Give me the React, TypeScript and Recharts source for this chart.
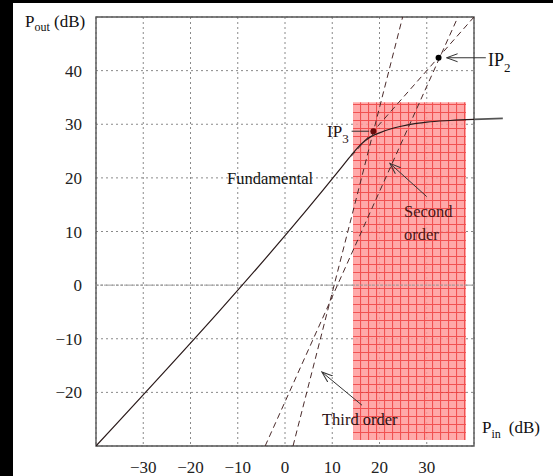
import {
  LineChart,
  Line,
  XAxis,
  YAxis,
  CartesianGrid,
  ReferenceArea,
  ReferenceLine,
  ReferenceDot,
} from 'recharts';

// axis ticks
const xTicks = [-30, -20, -10, 0, 10, 20, 30];
const yTicks = [-20, -10, 0, 10, 20, 30, 40];

// P_in -> P_out of the fundamental (linear, then compressing)
const fundamental = [
  { x: -40, y: -30 },
  { x: 12, y: 22 },
  { x: 14, y: 24.2 },
  { x: 16, y: 26.2 },
  { x: 18, y: 27.6 },
  { x: 20, y: 28.4 },
  { x: 23, y: 29.3 },
  { x: 26, y: 29.9 },
  { x: 30, y: 30.4 },
  { x: 35, y: 30.7 },
  { x: 40, y: 30.9 },
];
const fundamentalTail = [
  { x: 40, y: 30.9 },
  { x: 46.1, y: 31.1 },
];
const fundamentalExtrapolated = [
  { x: 14, y: 24 },
  { x: 40, y: 50 },
];
const secondOrder = [
  { x: -4.2, y: -30 },
  { x: 36.6, y: 50 },
];
const thirdOrder = [
  { x: 1.7, y: -30 },
  { x: 24.9, y: 50 },
];
const interceptPoints = [
  { name: 'IP2', x: 32.5, y: 42.4 },
  { name: 'IP3', x: 18.7, y: 28.7 },
];
// shaded operating region
const regionX = [14.4, 38.3];
const regionY = [-28.9, 34.1];

// annotation arrows [from, to]
const arrows = [
  [{ x: 42.5, y: 42.4 }, { x: 34.2, y: 42.4 }],
  [{ x: 14.1, y: 28.7 }, { x: 17.8, y: 28.7 }],
  [{ x: 30.0, y: 16.5 }, { x: 22.2, y: 22.7 }],
  [{ x: 16.3, y: -22.4 }, { x: 7.8, y: -16.2 }],
];

const serif = '"Liberation Serif", "Times New Roman", serif';
const fmt = (v: number) => String(v).replace('-', '\u2212');

export default function App() {
  return (
    <div style={{ position: 'absolute', left: 0, top: 0, width: 553, height: 476, background: '#000' }}>
      <div style={{ position: 'absolute', left: 13, top: 3, width: 540, height: 473, background: '#fff' }} />
      <div style={{ position: 'absolute', left: 0, top: 0 }}>
        <LineChart width={553} height={476} margin={{ top: 17, right: 79, bottom: 0, left: 36 }}>
          <defs>
            <pattern id="redgrid" width="8" height="8" patternUnits="userSpaceOnUse">
              <rect width="8" height="8" fill="#ff9a9a" />
              <path d="M0 0.5H8M0.5 0V8" stroke="#ee3333" strokeWidth="1.2" />
            </pattern>
            <marker id="arrowhead" markerWidth="12" markerHeight="10" refX="11" refY="5" orient="auto" markerUnits="userSpaceOnUse">
              <path d="M0 1 L11 5 L0 9" fill="none" stroke="#333" strokeWidth="1" />
            </marker>
          </defs>
          <CartesianGrid stroke="#8a8a8a" strokeDasharray="2 3" />
          <ReferenceArea
            x1={regionX[0]}
            x2={regionX[1]}
            y1={regionY[0]}
            y2={regionY[1]}
            fill="url(#redgrid)"
            fillOpacity={0.85}
            stroke="none"
            zIndex={-50}
          />
          <XAxis
            dataKey="x"
            type="number"
            domain={[-40, 40]}
            ticks={xTicks}
            tickFormatter={fmt}
            allowDataOverflow
            height={30}
            tickSize={0}
            tickLine={false}
            tickMargin={15}
            axisLine={false}
            tick={{ fill: '#222', fontSize: 17, fontFamily: serif }}
          />
          <YAxis
            type="number"
            domain={[-30, 50]}
            ticks={yTicks}
            tickFormatter={fmt}
            allowDataOverflow
            width={60}
            tickSize={0}
            tickLine={false}
            tickMargin={14}
            axisLine={false}
            tick={{ fill: '#222', fontSize: 17, fontFamily: serif }}
          />
          <ReferenceLine y={0} stroke="#999" strokeDasharray="3 1" />
          <Line data={fundamental} dataKey="y" type="monotone" stroke="#2a1a1a" strokeWidth={1.2} dot={false} isAnimationActive={false} />
          <Line data={fundamentalExtrapolated} dataKey="y" stroke="#4a2a2a" strokeWidth={1} strokeDasharray="6 4" dot={false} isAnimationActive={false} />
          <Line data={secondOrder} dataKey="y" stroke="#4a2a2a" strokeWidth={1} strokeDasharray="6 4" dot={false} isAnimationActive={false} />
          <Line data={thirdOrder} dataKey="y" stroke="#4a2a2a" strokeWidth={1} strokeDasharray="6 4" dot={false} isAnimationActive={false} />
          {interceptPoints.map((p) => (
            <ReferenceDot
              key={p.name}
              x={p.x}
              y={p.y}
              r={3}
              fill={p.name === 'IP3' ? '#6a0a0a' : '#000'}
              stroke="none"
              ifOverflow="visible"
            />
          ))}
          <ReferenceLine
            segment={fundamentalTail}
            stroke="#555"
            strokeWidth={1.6}
            ifOverflow="visible"
          />
          <ReferenceArea x1={-40} x2={40} y1={-30} y2={50} fill="none" stroke="#555" strokeWidth={1.4} />
          {arrows.map((a, i) => (
            <ReferenceLine
              key={i}
              segment={a}
              stroke="#333"
              strokeWidth={1}
              ifOverflow="visible"
              markerEnd={i === 1 ? undefined : 'url(#arrowhead)'}
            />
          ))}
          <text x={25} y={27} fontFamily={serif} fontSize={17} fill="#111">
            P<tspan fontSize={12} dy={4}>out</tspan>
            <tspan dy={-4}> (dB)</tspan>
          </text>
          <text x={482} y={433} fontFamily={serif} fontSize={17} fill="#111">
            P<tspan fontSize={12} dy={5}>in</tspan>
            <tspan dy={-5} dx={8}>(dB)</tspan>
          </text>
          <text x={488} y={66} fontFamily={serif} fontSize={18} fill="#111">
            IP<tspan fontSize={13} dy={6}>2</tspan>
          </text>
          <text x={327} y={137} fontFamily={serif} fontSize={17} fill="#2a1010">
            IP<tspan fontSize={13} dy={6}>3</tspan>
          </text>
          <text x={227} y={184} fontFamily={serif} fontSize={16.5} fill="#111">
            Fundamental
          </text>
          <text x={404} y={217} fontFamily={serif} fontSize={16.5} fill="#4a1515">
            Second
          </text>
          <text x={404} y={240} fontFamily={serif} fontSize={16.5} fill="#4a1515">
            order
          </text>
          <text x={322} y={425} fontFamily={serif} fontSize={16.5} fill="#2a1010">
            Third order
          </text>
        </LineChart>
      </div>
    </div>
  );
}
